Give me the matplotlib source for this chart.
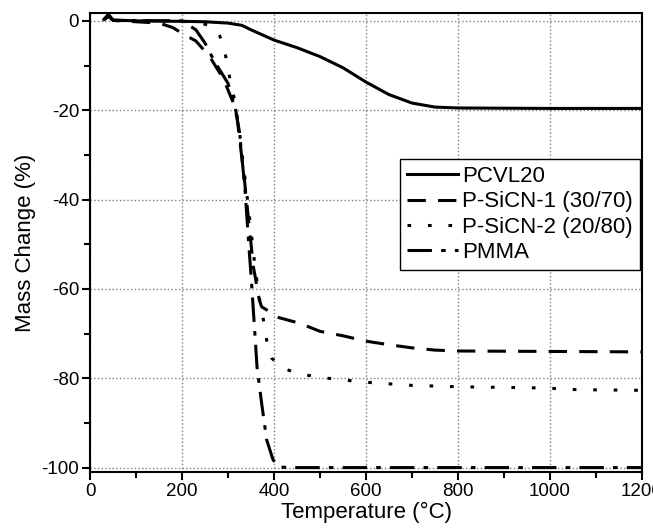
import matplotlib
matplotlib.use('Agg')
import matplotlib.pyplot as plt
from matplotlib.ticker import MultipleLocator

plt.rcParams['font.family'] = ['Liberation Sans', 'DejaVu Sans']
plt.rcParams['axes.unicode_minus'] = False

# values
pcvl_t = [30, 40, 50, 100, 200, 250, 300, 330, 350, 400, 450, 500, 550, 600, 650, 700, 750, 800, 1000, 1200]
pcvl_m = [0.3, 1.2, 0.2, 0, -0.1, -0.2, -0.5, -1.0, -2.0, -4.3, -6.0, -8.0, -10.5, -13.7, -16.5, -18.4, -19.3, -19.5, -19.6, -19.6]

sicn1_t = [30, 40, 50, 150, 180, 200, 230, 260, 290, 310, 320, 335, 345, 355, 362, 368, 373, 384, 406, 456, 500, 550, 600, 650, 700, 750, 800, 1000, 1200]
sicn1_m = [0.3, 1.0, 0.1, -0.5, -1.5, -2.8, -4.5, -8.0, -13.0, -18.0, -22.0, -35.0, -45.0, -55.0, -59.0, -62.5, -64.0, -64.7, -66.3, -67.7, -69.5, -70.5, -71.7, -72.5, -73.2, -73.7, -73.9, -74.0, -74.1]

sicn2_t = [30, 40, 50, 200, 240, 270, 280, 291, 300, 305, 315, 325, 340, 350, 359, 368, 377, 384, 395, 417, 452, 482, 517, 600, 700, 800, 1000, 1030, 1100, 1200]
sicn2_m = [0.3, 1.0, 0.1, -0.1, -0.4, -1.5, -2.8, -6.0, -10.5, -13.7, -18.0, -25.0, -38.0, -47.0, -55.4, -62.0, -67.0, -71.5, -75.5, -77.7, -78.9, -79.5, -80.0, -80.9, -81.6, -81.9, -82.2, -82.5, -82.6, -82.7]

pmma_t = [30, 40, 50, 200, 230, 250, 270, 300, 315, 325, 337, 345, 350, 355, 363, 373, 384, 398, 413, 450, 1200]
pmma_m = [0.3, 1.5, 0.1, 0, -2.0, -5.0, -9.0, -14.0, -19.0, -25.0, -38.0, -50.0, -57.0, -64.8, -77.5, -85.6, -93.8, -98.3, -99.9, -100.0, -100.0]

fig = plt.figure(figsize=(6.53, 5.31), dpi=100)
ax = fig.add_axes([0.138, 0.111, 0.845, 0.864])

lw = 2.2
ax.plot(pcvl_t, pcvl_m, color='black', lw=lw, label='PCVL20')
ax.plot(sicn1_t, sicn1_m, color='black', lw=lw, dashes=(6, 4), label='P-SiCN-1 (30/70)')
ax.plot(sicn2_t, sicn2_m, color='black', lw=lw, dashes=(1.2, 5.5), label='P-SiCN-2 (20/80)')
ax.plot(pmma_t, pmma_m, color='black', lw=lw, dashes=(8, 3, 1.5, 3), label='PMMA')

ax.set_xlim(0, 1200)
ax.set_ylim(-101, 1.7)
ax.xaxis.set_major_locator(MultipleLocator(200))
ax.xaxis.set_minor_locator(MultipleLocator(100))
ax.yaxis.set_major_locator(MultipleLocator(20))
ax.yaxis.set_minor_locator(MultipleLocator(10))
ax.tick_params(which='major', direction='out', length=6, width=1.5, labelsize=13.5, pad=2, top=False, right=False)
ax.tick_params(which='minor', direction='out', length=4, width=1.5, top=False, right=False)
for sp in ax.spines.values():
    sp.set_linewidth(1.5)

ax.grid(True, which='major', color='gray', linestyle=':', linewidth=1)

ax.set_xlabel('Temperature (°C)', fontsize=16, labelpad=1)
ax.set_ylabel('Mass Change (%)', fontsize=16, labelpad=4)

leg = ax.legend(loc='upper right', bbox_to_anchor=(0.996, 0.682), fontsize=16,
                frameon=True, fancybox=False, edgecolor='black', framealpha=1,
                handlelength=2.3, handletextpad=0.2, labelspacing=0.2,
                borderpad=0.3, borderaxespad=0)
leg.get_frame().set_linewidth(1.0)

fig.savefig('out.png', dpi=100)
